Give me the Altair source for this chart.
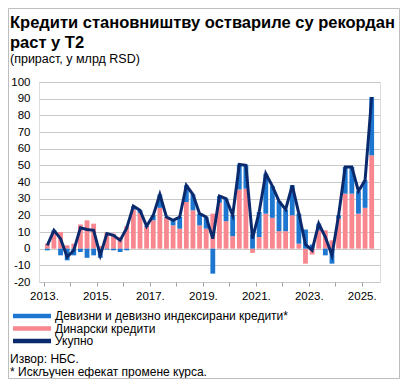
import altair as alt
import pandas as pd

# ---- data ----
years = list(range(2013, 2026))
quarters = [f"{y}Q{q}" for y in years for q in range(1, 5)][:50]

dinar = [3, 10, 10, 2, 3, 14.5, 17, 15, 1.5, 9.5,
         9, 7, 13.5, 23.5, 21.5, 13, 17, 24.5, 18.5, 14,
         12, 28, 23, 14, 12, 21, 27.5, 16.5, 7.5, 35.5,
         36, -2.5, 7, 21, 18.5, 10.5, 10.5, 20, 3, -9,
         -3.5, 11, 11, 5, 18, 33, 33, 21, 24.5, 56]
fx = [-1, 1, -4, -7, -4, -2, -5.5, -4, -5.5, -0.5,
      -1, -2, -1, 2, 1.5, 0.5, 3, 8, 0.5, 3,
      7, 10, 9.5, 7, 7, -15, 4, 13.5, 12.5, 15,
      14, 8.5, 15, 24, 19, 18, 13, 18, 18, 11.5,
      2.5, 4, -4, -9, 2, 16, 16, 13.5, 16.5, 35]
total = [2, 11, 6, -5, -1, 12.5, 11.5, 11, -4, 9,
         8, 5, 12.5, 25.5, 23, 13.5, 20, 32.5, 19, 17,
         19, 38, 32.5, 21, 19, 6, 31.5, 30, 20, 50.5,
         50, 6, 22, 45, 37.5, 28.5, 23.5, 38, 21, 2.5,
         -1, 15, 7, -4, 20, 49, 49, 34.5, 41, 91]

SER_FX = "Девизни и девизно индексирани кредити*"
SER_DIN = "Динарски кредити"
SER_TOT = "Укупно"
series_names = [SER_FX, SER_DIN, SER_TOT]
series_colors = ["#1D77D0", "#F8878F", "#0B2A6E"]

title_lines = ["Кредити становништву оствариле су рекордан", "раст у Т2"]
subtitle = "(прираст, у млрд RSD)"
notes = ["Извор: НБС.", "* Искључен ефекат промене  курса."]

# ---- tables ----
t = [int(q[:4]) + (int(q[-1]) - 1) / 4 + 0.125 for q in quarters]
bars_df = pd.DataFrame({
    "t": t * 2,
    "value": dinar + fx,
    "series": [SER_DIN] * len(t) + [SER_FX] * len(t),
    "ord": [0] * len(t) + [1] * len(t),
})
line_df = pd.DataFrame({"t": t, "value": total, "series": [SER_TOT] * len(t)})

FONT = "Liberation Sans"

xscale = alt.Scale(domain=[2013, 2025.5], nice=False, zero=False)
yscale = alt.Scale(domain=[-20, 100], nice=False)

xaxis = alt.Axis(values=years, labelExpr="datum.value % 2 == 1 ? datum.value + '.' : ''",
                 title=None, grid=False, domain=False, ticks=True, tickSize=4,
                 tickColor="#a0a0a0", labelFontSize=11.5, labelColor="black",
                 labelPadding=4, labelFont=FONT, labelOverlap=False)
yaxis = alt.Axis(values=list(range(-20, 101, 10)), labelExpr="'' + datum.value",
                 title=None, grid=True, gridColor="#c8c8c8", domain=False, ticks=False,
                 labelFontSize=11.5, labelColor="black", labelPadding=9, labelFont=FONT,
                 labelOverlap=False)

color_scale = alt.Scale(domain=series_names, range=series_colors)
color = alt.Color(
    "series:N",
    scale=color_scale,
    legend=alt.Legend(
        title=None, orient="none", legendX=-13, legendY=228, padding=0,
        symbolType="M-3.17,-0.39H3.17V0.39H-3.17Z", symbolSize=144, symbolStrokeWidth=0,
        labelFont=FONT, labelFontSize=12, labelColor="black", labelOffset=17,
        labelLimit=0, rowPadding=0.5,
    ),
)

bars = alt.Chart(bars_df).mark_bar(size=4.8).encode(
    x=alt.X("t:Q", scale=xscale, axis=xaxis),
    y=alt.Y("value:Q", scale=yscale, axis=yaxis, stack="zero"),
    color=color,
    order=alt.Order("ord:Q"),
)

line = alt.Chart(line_df).mark_line(strokeWidth=3).encode(
    x=alt.X("t:Q", scale=xscale, axis=xaxis),
    y=alt.Y("value:Q", scale=yscale, axis=yaxis),
    color=alt.Color("series:N", scale=color_scale, legend=None),
)

title_text = alt.Chart(pd.DataFrame({"k": [0]})).mark_text(
    align="left", baseline="alphabetic", font=FONT, fontSize=16.5, fontWeight="bold",
    lineHeight=20, color="black",
).encode(x=alt.value(-29), y=alt.value(-54), text=alt.value(title_lines))

subtitle_text = alt.Chart(pd.DataFrame({"k": [0]})).mark_text(
    align="left", baseline="alphabetic", font=FONT, fontSize=12.5, color="black",
).encode(x=alt.value(-29), y=alt.value(-19.5), text=alt.value(subtitle))

note_text = alt.Chart(pd.DataFrame({"k": [0]})).mark_text(
    align="left", baseline="alphabetic", font=FONT, fontSize=12, lineHeight=12.5,
    color="black",
).encode(x=alt.value(-29), y=alt.value(281), text=alt.value(notes))

frame = alt.Chart(pd.DataFrame({"k": [0]})).mark_rect(
    fill="transparent", stroke="#bdbdbd", strokeWidth=1
).encode(x=alt.value(-30.5), x2=alt.value(360.5), y=alt.value(-73.5), y2=alt.value(296.5))

chart = alt.layer(bars, line, title_text, subtitle_text, note_text, frame).properties(
    width=341, height=200,
    autosize=alt.AutoSizeParams(type="none"),
    padding={"left": 31, "top": 74, "right": 20, "bottom": 97},
).configure_view(stroke="#b0b0b0").configure(font=FONT)

chart.save("out.html", embed_options={"renderer": "svg", "actions": False})
